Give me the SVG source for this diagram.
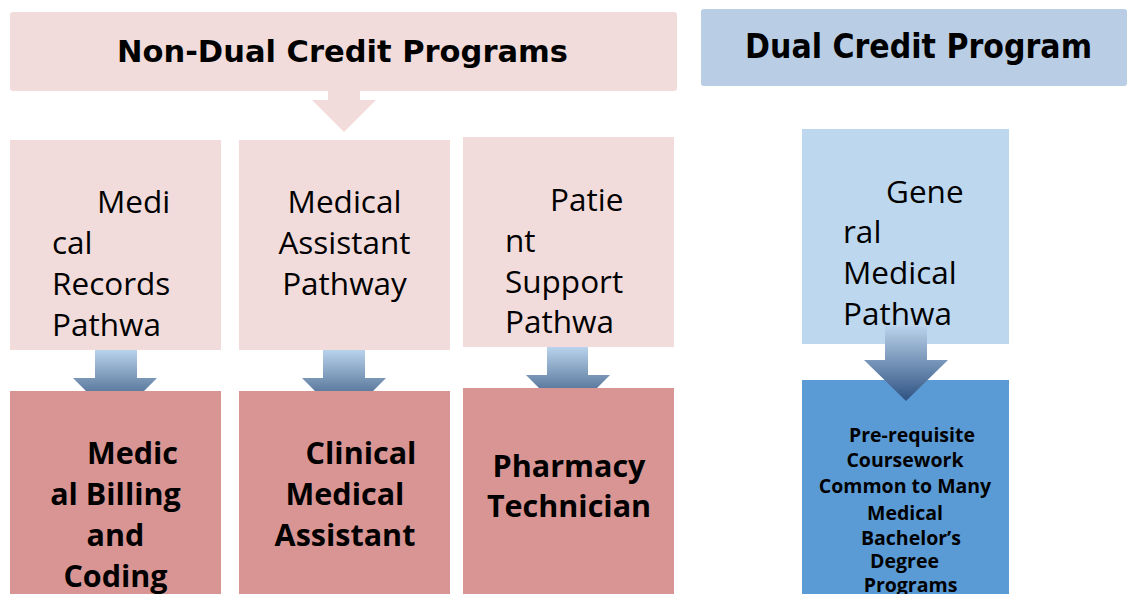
<svg xmlns="http://www.w3.org/2000/svg" width="1127" height="594" viewBox="0 0 1127 594">
<style>
.pl{fill:#F2DCDB}
.pd{fill:#D99594}
.bl{fill:#B9CDE5}
.bm{fill:#BDD7EE}
.bd{fill:#5B9BD5}
.t2{font-family:"Open Sans",sans-serif;font-size:31.5px;fill:#000}
.t3{font-family:"Open Sans",sans-serif;font-weight:700;font-size:30.5px;fill:#000}
.t4{font-family:"Open Sans",sans-serif;font-weight:700;font-size:19.5px;fill:#000}
.h{font-family:"DejaVu Sans",Verdana,sans-serif;font-weight:700;fill:#000;text-anchor:middle}
.m{text-anchor:middle}
</style>
<defs>
<linearGradient id="ga" x1="0" y1="0" x2="0" y2="1">
<stop offset="0" stop-color="#B9D3EC"/>
<stop offset="1" stop-color="#5E7CA0"/>
</linearGradient>
<linearGradient id="gd" x1="0" y1="0" x2="0" y2="1">
<stop offset="0" stop-color="#BAD2EA"/>
<stop offset="1" stop-color="#2E5282"/>
</linearGradient>
</defs>
<g id="connectors-back">
<path class="pl" d="M328,90 H360 V100 H376 L344,132 L312,100 H328 Z"/>
</g>
<g id="non-dual-header">
<rect class="pl" x="10" y="12" width="667" height="79" rx="3"/>
<text class="h" x="342.5" y="62" font-size="30.5" textLength="451" lengthAdjust="spacingAndGlyphs">Non-Dual Credit Programs</text>
</g>
<g id="dual-header">
<rect class="bl" x="701" y="9" width="426" height="77" rx="3"/>
<text class="h" x="918.5" y="58" font-size="33" textLength="347" lengthAdjust="spacingAndGlyphs">Dual Credit Program</text>
</g>
<g id="medical-records-pathway">
<rect class="pl" x="10" y="140" width="211" height="210"/>
<text class="t2" x="97" y="213">Medi</text>
<text class="t2" x="52" y="254">cal</text>
<text class="t2" x="52" y="295">Records</text>
<text class="t2" x="52" y="336">Pathwa</text>
</g>
<g id="medical-assistant-pathway">
<rect class="pl" x="239" y="140" width="211" height="210"/>
<text class="t2 m" x="344.5" y="213">Medical</text>
<text class="t2 m" x="344.5" y="254">Assistant</text>
<text class="t2 m" x="344.5" y="295">Pathway</text>
</g>
<g id="patient-support-pathway">
<rect class="pl" x="463" y="137" width="211" height="210"/>
<text class="t2" x="550" y="211">Patie</text>
<text class="t2" x="505" y="252">nt</text>
<text class="t2" x="505" y="293">Support</text>
<text class="t2" x="505" y="333">Pathwa</text>
</g>
<g id="general-medical-pathway">
<rect class="bm" x="802" y="129" width="207" height="215"/>
<text class="t2" x="886" y="203">Gene</text>
<text class="t2" x="843" y="243">ral</text>
<text class="t2" x="843" y="284">Medical</text>
<text class="t2" x="843" y="325">Pathwa</text>
</g>
<g id="medical-billing-coding">
<rect class="pd" x="10" y="391" width="211" height="210"/>
<text class="t3 m" x="132.5" y="464">Medic</text>
<text class="t3 m" x="115.5" y="505">al Billing</text>
<text class="t3 m" x="115.5" y="546">and</text>
<text class="t3 m" x="115.5" y="587">Coding</text>
</g>
<g id="clinical-medical-assistant">
<rect class="pd" x="239" y="391" width="211" height="210"/>
<text class="t3 m" x="361" y="464">Clinical</text>
<text class="t3 m" x="345" y="505">Medical</text>
<text class="t3 m" x="345" y="546">Assistant</text>
</g>
<g id="pharmacy-technician">
<rect class="pd" x="463" y="388" width="211" height="210"/>
<text class="t3 m" x="569" y="477">Pharmacy</text>
<text class="t3 m" x="569" y="517">Technician</text>
</g>
<g id="prerequisite-coursework">
<rect class="bd" x="802" y="380" width="207" height="220"/>
<text class="t4 m" x="912" y="442">Pre-requisite</text>
<text class="t4 m" x="905" y="467">Coursework</text>
<text class="t4 m" x="905" y="493">Common to Many</text>
<text class="t4 m" x="905" y="520">Medical</text>
<text class="t4 m" x="911" y="545">Bachelor’s</text>
<text class="t4 m" x="904.5" y="568">Degree</text>
<text class="t4 m" x="910.5" y="592">Programs</text>
</g>
<g id="connectors">
<path fill="url(#ga)" d="M95,350 H137 V378 H157 L144,391 H86 L73,378 H95 Z"/>
<path fill="url(#ga)" d="M323,350 H365 V378 H386 L373,391 H315 L302,378 H323 Z"/>
<path fill="url(#ga)" d="M547,347 H588 V375 H610 L597,388 H539 L526,375 H547 Z"/>
<path fill="url(#gd)" d="M885,326 H927 V360 H948 L906,401 L864,360 H885 Z"/>
</g>
</svg>
